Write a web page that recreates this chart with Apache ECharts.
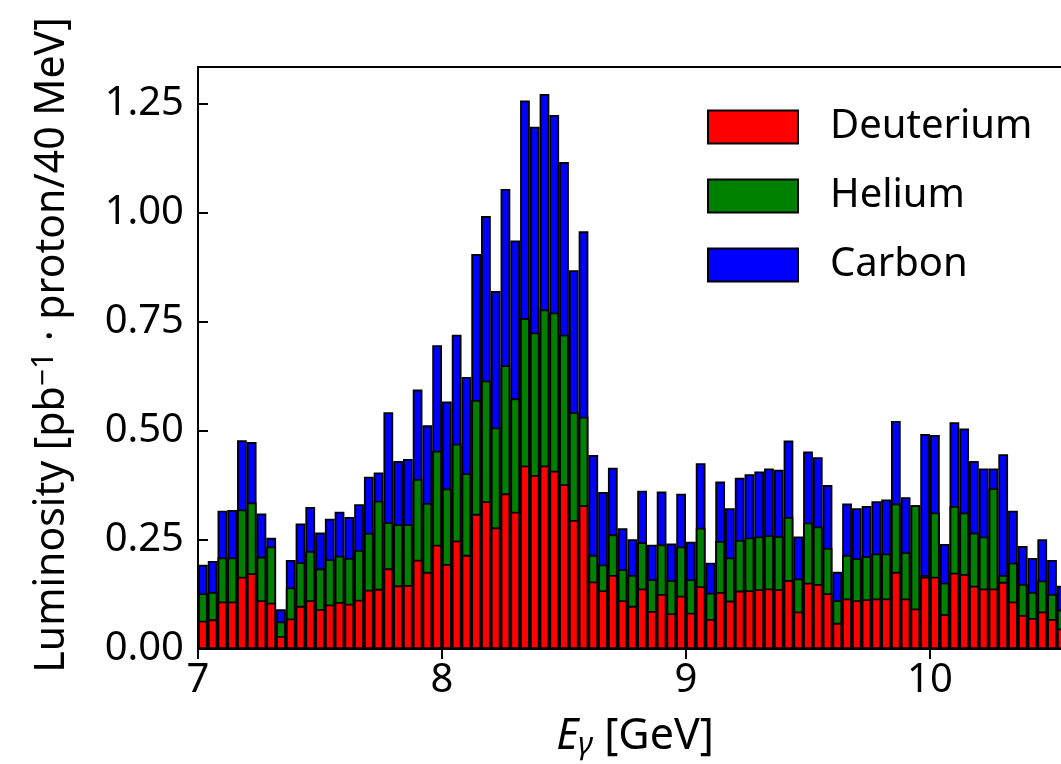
<!DOCTYPE html>
<html><head><meta charset="utf-8">
<script src="https://cdn.jsdelivr.net/npm/echarts@6/dist/echarts.min.js"></script>
<style>html,body{margin:0;padding:0;overflow:hidden;background:#fff}#c{width:1100px;height:764px}</style>
</head><body><div id="c"></div>
<script>
// Histogram bins: 40 MeV wide starting at 7.00 GeV
const binLow = 7.0;
const binWidth = 0.04;
const deuterium = [0.065,0.068,0.109,0.109,0.166,0.174,0.112,0.106,0.030,0.070,
 0.099,0.112,0.092,0.102,0.108,0.104,0.113,0.136,0.138,0.185,
 0.146,0.147,0.205,0.177,0.239,0.195,0.249,0.216,0.310,0.339,
 0.279,0.357,0.315,0.421,0.399,0.421,0.409,0.378,0.296,0.330,
 0.155,0.135,0.170,0.112,0.099,0.139,0.087,0.126,0.082,0.122,
 0.083,0.144,0.069,0.131,0.111,0.134,0.135,0.137,0.139,0.137,
 0.158,0.086,0.152,0.149,0.128,0.060,0.116,0.112,0.114,0.116,
 0.116,0.177,0.116,0.093,0.166,0.166,0.080,0.175,0.172,0.145,
 0.139,0.139,0.154,0.109,0.078,0.071,0.086,0.069,0.047];
const helium = [0.063,0.063,0.101,0.101,0.154,0.162,0.100,0.129,0.033,0.071,
 0.100,0.113,0.093,0.104,0.106,0.105,0.114,0.130,0.202,0.106,
 0.140,0.139,0.185,0.158,0.216,0.173,0.222,0.187,0.261,0.277,
 0.229,0.294,0.260,0.338,0.327,0.358,0.363,0.343,0.247,0.203,
 0.061,0.059,0.093,0.071,0.071,0.106,0.073,0.114,0.076,0.113,
 0.077,0.134,0.060,0.117,0.099,0.116,0.121,0.121,0.122,0.122,
 0.145,0.076,0.138,0.132,0.104,0.052,0.100,0.096,0.099,0.103,
 0.103,0.157,0.106,0.237,0.004,0.147,0.072,0.153,0.141,0.122,
 0.119,0.230,0.016,0.089,0.071,0.060,0.071,0.057,0.043];
const carbon = [0.065,0.071,0.107,0.109,0.159,0.139,0.099,0.020,0.028,0.063,
 0.089,0.101,0.082,0.093,0.101,0.094,0.105,0.129,0.065,0.252,
 0.145,0.150,0.205,0.178,0.242,0.200,0.250,0.221,0.335,0.377,
 0.313,0.404,0.362,0.499,0.472,0.494,0.453,0.396,0.326,0.425,
 0.229,0.166,0.153,0.094,0.082,0.118,0.079,0.121,0.084,0.121,
 0.086,0.148,0.069,0.136,0.113,0.143,0.145,0.149,0.153,0.152,
 0.175,0.096,0.163,0.159,0.144,0.065,0.118,0.115,0.115,0.120,
 0.124,0.189,0.126,0.000,0.323,0.178,0.089,0.192,0.193,0.164,
 0.156,0.045,0.277,0.119,0.087,0.078,0.095,0.078,0.055];
const seriesNames = ['Deuterium','Helium','Carbon'];
const xTicks = [7, 8, 9, 10];
const yTicks = [0, 0.25, 0.5, 0.75, 1.0, 1.25];
const xRange = [7, 10.6];
const yRange = [0, 1.335];

const FONT = 'Noto Sans';
const colors = ['#ff0000', '#008000', '#0000ff'];
const values = [deuterium, helium, carbon];

// stacked histogram: each layer is drawn as the cumulative top of the stack,
// tallest first, so the lower layers sit on top of it.
const cumulative = values.map((arr, si) =>
  arr.map((v, i) => values.slice(0, si + 1).reduce((s, a) => s + a[i], 0)));
function toPoints(arr){ return arr.map((v,i)=>[binLow + binWidth*(i+0.5), v]); }

const chart = echarts.init(document.getElementById('c'), null, {renderer:'canvas'});
const axisCommon = {
  type:'value',
  axisLine:{show:true, lineStyle:{color:'#000', width:2}},
  splitLine:{show:false}
};
const tickStyle = {show:true, inside:true, length:10, lineStyle:{color:'#000', width:2}};
const order = [2, 1, 0];
chart.setOption({
  animation:false,
  textStyle:{fontFamily:FONT, color:'#000'},
  grid:{left:198, top:67, right:23.6, bottom:115, show:true, borderColor:'#000', borderWidth:2, backgroundColor:'transparent'},
  xAxis:[
    Object.assign({}, axisCommon, {position:'bottom', min:xRange[0], max:xRange[1],
      axisTick:Object.assign({customValues:xTicks}, tickStyle),
      axisLabel:{show:true, customValues:xTicks, fontSize:40, fontFamily:FONT, color:'#000', margin:12}}),
    Object.assign({}, axisCommon, {position:'top', min:xRange[0], max:xRange[1],
      axisTick:Object.assign({customValues:xTicks}, tickStyle),
      axisLabel:{show:false}})
  ],
  yAxis:[
    Object.assign({}, axisCommon, {position:'left', min:yRange[0], max:yRange[1],
      axisTick:Object.assign({customValues:yTicks}, tickStyle),
      axisLabel:{show:true, customValues:yTicks, fontSize:40, fontFamily:FONT, color:'#000', margin:14,
        formatter:v=>Number(v).toFixed(2)}}),
    Object.assign({}, axisCommon, {position:'right', min:yRange[0], max:yRange[1],
      axisTick:Object.assign({customValues:yTicks}, tickStyle),
      axisLabel:{show:false}})
  ],
  legend:{
    data:seriesNames, orient:'vertical', left:702, top:102,
    itemWidth:90, itemHeight:33, itemGap:29, icon:'rect',
    itemStyle:{borderColor:'#000', borderWidth:2},
    textStyle:{fontSize:40, fontFamily:FONT, color:'#000', padding:[0,0,0,27], lineHeight:33}
  },
  series: order.map(si=>({
    name:seriesNames[si], type:'bar', xAxisIndex:0, yAxisIndex:0,
    barWidth:9.76, barGap:'-100%',
    itemStyle:{color:colors[si], borderColor:'#000', borderWidth:1.8},
    data:toPoints(cumulative[si])
  })),
  graphic:[
    {type:'text', x:52, y:345, rotation:Math.PI/2,
     style:{text:'Luminosity [pb{sup|−1} · proton/40 MeV]', fontSize:41, fontFamily:FONT, fill:'#000',
       align:'center', verticalAlign:'middle',
       rich:{sup:{fontSize:30, fontFamily:FONT, verticalAlign:'top', padding:[0,0,16,0]}}}},
    {type:'text', x:635, y:737,
     style:{text:'{e|E}{g|γ} [GeV]', fontSize:43, fontFamily:FONT, fill:'#000',
       align:'center', verticalAlign:'middle',
       rich:{e:{fontSize:43, fontStyle:'italic', fontFamily:FONT}, g:{fontSize:31, fontStyle:'italic', fontFamily:FONT, padding:[16,0,0,0]}}}}
  ]
});
</script></body></html>
